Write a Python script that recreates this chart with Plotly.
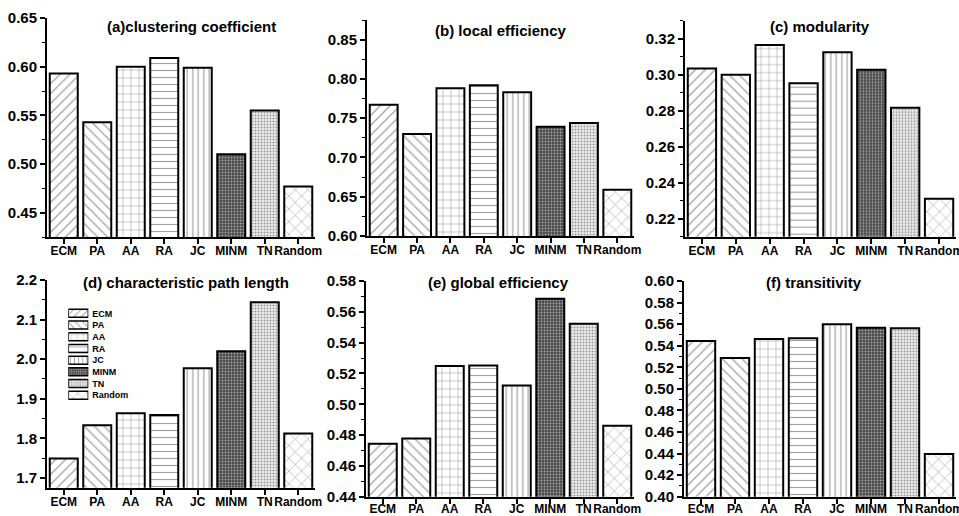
import plotly.graph_objects as go

# Network models compared in every panel
categories = ["ECM", "PA", "AA", "RA", "JC", "MINM", "TN", "Random"]

# Metric values per model (same order as categories)
clustering_coefficient = [0.593, 0.543, 0.600, 0.609, 0.599, 0.510, 0.555, 0.477]
local_efficiency = [0.767, 0.730, 0.788, 0.792, 0.783, 0.739, 0.744, 0.659]
modularity = [0.3035, 0.3000, 0.3165, 0.2952, 0.3125, 0.3028, 0.2817, 0.2311]
char_path_length = [1.749, 1.833, 1.863, 1.859, 1.977, 2.020, 2.144, 1.812]
global_efficiency = [0.4744, 0.4778, 0.5248, 0.5252, 0.5121, 0.5684, 0.5523, 0.4860]
transitivity = [0.5444, 0.5286, 0.5463, 0.5469, 0.5599, 0.5567, 0.5561, 0.4396]

panel_titles = [
    "(a)clustering coefficient",
    "(b) local efficiency",
    "(c) modularity",
    "(d) characteristic path length",
    "(e) global efficiency",
    "(f) transitivity",
]

W, H = 959, 516
FONT = "Liberation Sans, Arial, sans-serif"

# hatch style for each model: shape, line colour, background, tile size, solidity
styles = {
    "ECM":    ("/",  "#8c8c8c", "#ffffff", 7, 0.18),
    "PA":     ("\\", "#8c8c8c", "#ffffff", 7, 0.18),
    "AA":     ("+",  "#3c3c3c", "#ffffff", 8, 0.14),
    "RA":     ("-",  "#3c3c3c", "#ffffff", 7, 0.16),
    "JC":     ("|",  "#555555", "#ffffff", 5.5, 0.22),
    "MINM":   (".",  "#6e6e6e", "#4a4a4a", 3, 0.3),
    "TN":     (".",  "#b4b4b4", "#ececec", 3, 0.35),
    "Random": ("x",  "#8c8c8c", "#ffffff", 9, 0.13),
}


def pattern_for(cats, scale=1.0):
    return dict(
        shape=[styles[c][0] for c in cats],
        fgcolor=[styles[c][1] for c in cats],
        bgcolor=[styles[c][2] for c in cats],
        size=[styles[c][3] * scale for c in cats],
        solidity=[styles[c][4] for c in cats],
        fillmode="overlay",
    )


def px_x(v):
    return v / W


def px_y(v):
    return (H - v) / H


# panel layout: values, axis range, tick step, format, x pixel span, y pixel span,
# title centre, offset of the category labels
panels = [
    dict(values=clustering_coefficient, rng=[0.425, 0.65], dtick=0.05, fmt=".2f",
         xs=(47, 315), ys=(18, 237), title_at=(191, 27), lab_off=-3),
    dict(values=local_efficiency, rng=[0.60, 0.875], dtick=0.05, fmt=".2f",
         xs=(367, 634), ys=(20, 236), title_at=(501, 31), lab_off=-3),
    dict(values=modularity, rng=[0.21, 0.33], dtick=0.02, fmt=".2f",
         xs=(685, 956), ys=(20.7, 236.7), title_at=(820, 26.5), lab_off=-3),
    dict(values=char_path_length, rng=[1.675, 2.2], dtick=0.1, fmt=".1f",
         xs=(47, 315), ys=(280, 487.7), title_at=(186, 282.5), lab_off=-3),
    dict(values=global_efficiency, rng=[0.44, 0.58], dtick=0.02, fmt=".2f",
         xs=(366, 634), ys=(281, 496.7), title_at=(498, 282.5), lab_off=-5),
    dict(values=transitivity, rng=[0.40, 0.60], dtick=0.02, fmt=".2f",
         xs=(684, 956), ys=(281, 496.7), title_at=(813.5, 282.5), lab_off=-5),
]

fig = go.Figure()
layout_axes = {}
annotations = []

for i, p in enumerate(panels, start=1):
    sx = "" if i == 1 else str(i)
    fig.add_trace(go.Bar(
        x=categories,
        y=p["values"],
        xaxis="x" + sx,
        yaxis="y" + sx,
        width=0.836,
        marker=dict(
            color=[styles[c][2] for c in categories],
            line=dict(color="black", width=2),
            pattern=pattern_for(categories),
        ),
        showlegend=False,
        hoverinfo="x+y",
    ))
    layout_axes["xaxis" + sx] = dict(
        domain=[px_x(p["xs"][0]), px_x(p["xs"][1])],
        anchor="y" + sx,
        type="category",
        range=[-0.5, len(categories) - 0.5],
        tickmode="array", tickvals=categories, ticktext=categories,
        tickangle=0, automargin=False, ticklabelstandoff=p["lab_off"],
        showline=True, linecolor="black", linewidth=2,
        ticks="outside", ticklen=5, tickwidth=1.5, tickcolor="black",
        tickfont=dict(family=FONT, size=12, color="black", weight="bold"),
        showgrid=False, zeroline=False,
    )
    layout_axes["yaxis" + sx] = dict(
        domain=[px_y(p["ys"][1]), px_y(p["ys"][0])],
        anchor="x" + sx,
        range=p["rng"],
        tick0=0, dtick=p["dtick"], tickformat=p["fmt"],
        automargin=False,
        showline=True, linecolor="black", linewidth=2,
        ticks="outside", ticklen=5, tickwidth=1.5, tickcolor="black",
        minor=dict(ticks="outside", ticklen=3, tickwidth=1.2, tickcolor="black",
                   dtick=p["dtick"] / 2, showgrid=False),
        tickfont=dict(family=FONT, size=15, color="black", weight="bold"),
        showgrid=False, zeroline=False,
    )
    annotations.append(dict(
        text="<b>%s</b>" % panel_titles[i - 1],
        x=px_x(p["title_at"][0]), y=px_y(p["title_at"][1]),
        xref="paper", yref="paper", xanchor="center", yanchor="middle",
        showarrow=False,
        font=dict(family=FONT, size=15, color="black"),
    ))

# hatch key inside panel (d), drawn as small horizontal bars on their own axes
fig.add_trace(go.Bar(
    x=[1] * len(categories),
    y=categories,
    orientation="h",
    xaxis="x7",
    yaxis="y7",
    width=0.684,
    cliponaxis=False,
    marker=dict(
        color=[styles[c][2] for c in categories],
        line=dict(color="black", width=1.5),
        pattern=pattern_for(categories, scale=0.75),
    ),
    showlegend=False,
    hoverinfo="y",
))
layout_axes["xaxis7"] = dict(
    domain=[px_x(68.3), px_x(88.3)], anchor="y7", range=[0, 1], visible=False,
    automargin=False,
)
layout_axes["yaxis7"] = dict(
    domain=[px_y(401.1), px_y(307.5)], anchor="x7", type="category",
    range=[len(categories) - 0.5, -0.5], side="right",
    tickmode="array", tickvals=categories, ticktext=categories,
    ticklabelstandoff=3, automargin=False,
    showline=False, ticks="", showgrid=False, zeroline=False,
    tickfont=dict(family=FONT, size=9, color="black", weight="bold"),
)

fig.update_layout(
    width=W, height=H,
    margin=dict(l=0, r=0, t=0, b=0, autoexpand=False),
    paper_bgcolor="white", plot_bgcolor="white",
    annotations=annotations,
    bargap=0.1,
    **layout_axes,
)

fig.write_html("out.html")
